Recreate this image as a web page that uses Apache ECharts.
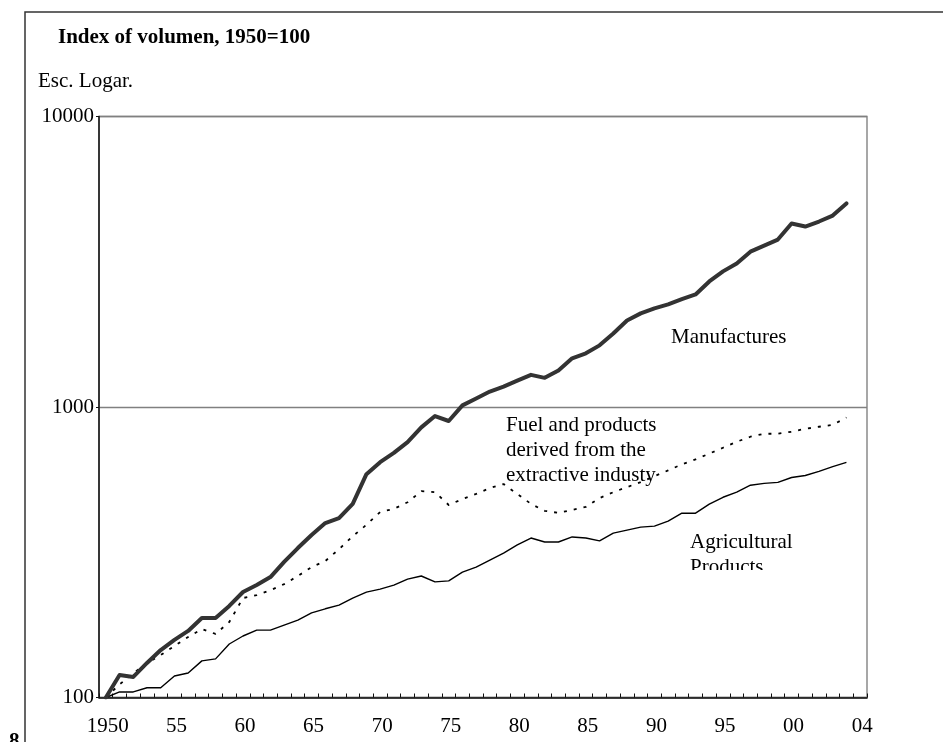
<!DOCTYPE html>
<html>
<head>
<meta charset="utf-8">
<script src="https://cdn.jsdelivr.net/npm/echarts@6/dist/echarts.min.js"></script>
<style>
html,body{margin:0;padding:0;background:#fff;}
#chart{width:943px;height:742px;}
</style>
</head>
<body>
<div id="chart"></div>
<script>
// Categories (one per year; the last slot carries the "04" label)
var years = [];
for (var y = 1950; y <= 2005; y++) years.push(String(y));
var tickLabels = ["1950","55","60","65","70","75","80","85","90","95","00","04"];

// Index of volume, 1950 = 100
var manufactures = [100,119.6,117.7,131.5,145.7,157.8,169.5,187.9,187.9,206.6,
  230.8,243.9,259.7,292.9,326.9,362.6,398.5,414.3,464,587,
  646,695,757,851,931,895,1013,1070,1130,1175,
  1232,1290,1260,1336,1471,1530,1630,1790,1985,2100,
  2185,2255,2350,2440,2705,2930,3120,3425,3595,3770,
  4280,4180,4350,4560,5020];
var fuel = [100,111,121,131.5,140,150.5,161.5,172,165.5,182,
  220,225,234,245.6,262,281,295,324,359,393,
  435,446,470,513,509,460,482,502,526,543,
  502,464,439,432,442,453,486,509,530,551,
  578,605,635,660,691,724,759,790,809,809,
  822,841,855,868,920];
var agricultural = [100,104.5,104.5,108,108,118.6,121.4,133.7,135.8,152.8,
  162.8,170.6,170.6,177.5,184.7,195.5,202,208,220,230.6,
  236,243.6,255.6,262,250,252,270,281,297,314,
  335,354,343,343,357,354,346,368,377,386,
  389,405,431,431,463,489,509,538,546,550,
  572,581,600,623,645];

var FONT = '"Liberation Serif","Times New Roman",serif';
var chart = echarts.init(document.getElementById('chart'), null, {renderer: 'canvas'});

var option = {
  backgroundColor: '#ffffff',
  animation: false,
  grid: {
    left: 99, right: 76, top: 116.5, bottom: 44.5,
    show: true, borderColor: '#8a8a8a', borderWidth: 1.5, backgroundColor: 'transparent'
  },
  xAxis: {
    type: 'category',
    data: years,
    boundaryGap: true,
    axisLine: {lineStyle: {color: '#111', width: 1.5}},
    axisTick: {show: true, inside: true, length: 4, interval: 0, lineStyle: {color: '#111', width: 1}},
    axisLabel: {
      interval: 0, margin: 18,
      color: '#000', fontFamily: FONT, fontSize: 21,
      padding: [0, 0, 0, 4],
      formatter: function (v, i) { return i % 5 === 0 ? (tickLabels[i / 5] || '') : ''; }
    },
    splitLine: {show: false}
  },
  yAxis: {
    type: 'log',
    logBase: 10,
    min: 100, max: 10000,
    axisLine: {show: true, lineStyle: {color: '#111', width: 1.5}},
    axisTick: {show: true, length: 3, lineStyle: {color: '#111'}},
    axisLabel: {color: '#000', fontFamily: FONT, fontSize: 21, margin: 5,
      formatter: function (v) { return String(Math.round(v)); }},
    splitLine: {show: true, lineStyle: {color: '#808080', width: 1.3}},
    minorTick: {show: false}
  },
  series: [
    {
      name: 'Agricultural Products', type: 'line', data: agricultural,
      symbol: 'none', z: 3,
      lineStyle: {color: '#000', width: 1.4, join: 'round'}
    },
    {
      name: 'Fuel', type: 'line', data: fuel,
      symbol: 'none', z: 4,
      lineStyle: {color: '#000', width: 1.8, type: [3, 7], join: 'round'}
    },
    {
      name: 'Manufactures', type: 'line', data: manufactures,
      symbol: 'none', z: 5,
      lineStyle: {color: '#333', width: 4, join: 'round', cap: 'round'}
    }
  ],
  graphic: [
    {type: 'polyline', z: 100, shape: {points: [[25, 742], [25, 12], [943, 12]]},
     style: {stroke: '#333', lineWidth: 1.5, fill: null}},
    {type: 'text', left: 58, top: 27, z: 100,
     style: {text: 'Index of volumen, 1950=100', font: 'bold 21px ' + FONT, fill: '#000'}},
    {type: 'text', left: 38, top: 71, z: 100,
     style: {text: 'Esc. Logar.', font: '21px ' + FONT, fill: '#000'}},
    {type: 'text', left: 671, top: 327, z: 100,
     style: {text: 'Manufactures', font: '21px ' + FONT, fill: '#000'}},
    {type: 'text', left: 506, top: 413, z: 100,
     style: {text: 'Fuel and products\nderived from the\nextractive industy', font: '21px ' + FONT,
             lineHeight: 25, fill: '#000'}},
    {type: 'text', left: 690, top: 530, z: 100,
     style: {text: 'Agricultural\nProducts', font: '21px ' + FONT, lineHeight: 25, fill: '#000'}},
    {type: 'rect', z: 101, shape: {x: 686, y: 570, width: 90, height: 16}, style: {fill: '#fff'}},
    {type: 'text', left: 9, top: 731, z: 100,
     style: {text: '8', font: 'bold 21px ' + FONT, fill: '#000'}}
  ]
};
chart.setOption(option);
</script>
</body>
</html>
